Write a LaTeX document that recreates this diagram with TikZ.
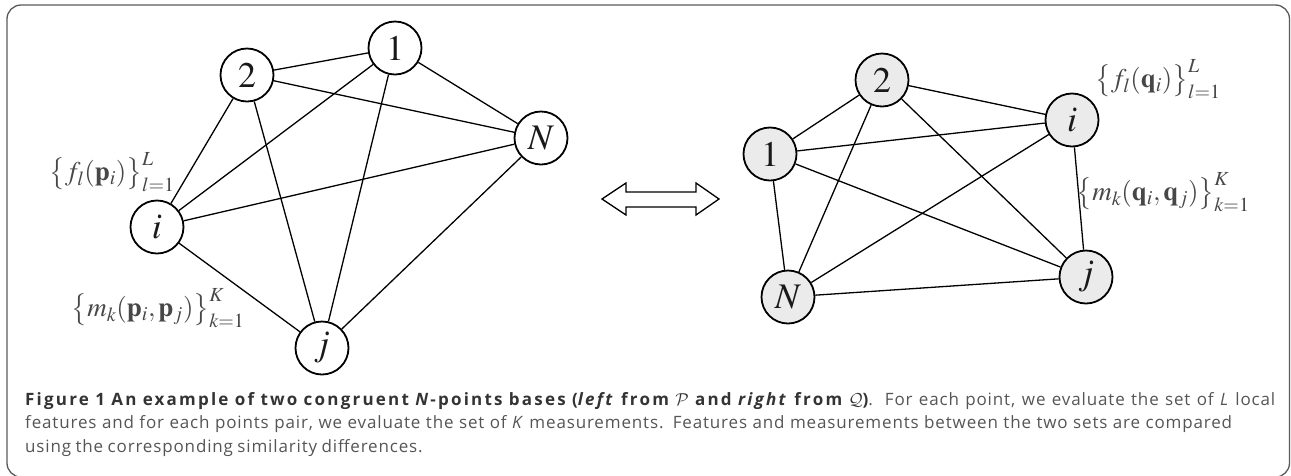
\documentclass[tikz,border=0pt]{standalone}
\usepackage{mathptmx}
\usepackage[no-math]{fontspec}
\newfontfamily\capfont[LetterSpace=5]{Open Sans}
\newfontfamily\capheadfont[LetterSpace=13]{Open Sans}
\DeclareMathAlphabet{\mathcmcal}{OMS}{cmsy}{m}{n}

\definecolor{capgray}{HTML}{555555}
\definecolor{capdark}{HTML}{333333}
\definecolor{framegray}{HTML}{5A5A5A}
\definecolor{nodefill}{HTML}{EBEBEB}
\definecolor{labgray}{HTML}{474747}

% a caption line set to a fixed width, the spare room going to the word spaces
\newcommand\capbox[2]{\hbox to #1{\spaceskip=0.26em plus 1fil\relax #2}}

\begin{document}
\begin{tikzpicture}[x=1pt,y=-1pt,
  pt/.style={circle,draw=black,line width=1.8pt,minimum size=53pt,inner sep=0pt,
    text=black!90,font=\fontsize{36}{36}\selectfont},
  ptq/.style={pt,fill=nodefill},
  edge/.style={line width=1.3pt},
  lab/.style={text=labgray,inner sep=0pt,font=\fontsize{27}{27}\selectfont},
  capline/.style={anchor=base west,inner sep=0pt,text=capgray,
    font=\capfont\fontsize{17}{20}\selectfont}]

\useasboundingbox (0,0) rectangle (1291,475);

% outer frame
\draw[framegray,line width=1.3pt,rounded corners=14pt] (7,5) rectangle (1289.5,477);

% left point set P
\node[pt] (p2) at (247,75)  {$2$};
\node[pt] (p1) at (395,48)  {$1$};
\node[pt] (pN) at (541,138) {$N$};
\node[pt] (pi) at (157,227) {$i$};
\node[pt] (pj) at (322,348) {$j$};

\foreach \a/\b in {p2/p1,p2/pi,p2/pN,p2/pj,p1/pi,p1/pj,p1/pN,pN/pi,pN/pj,pi/pj}
  \draw[edge] (\a) -- (\b);

\node[lab] (pf) at (112,172) {$\bigl\{f_l(\mathbf{p}_i)\bigr\}_{l=1}^{L}$};
\node[lab] (pm) at (158,308) {$\bigl\{m_k(\mathbf{p}_i,\mathbf{p}_j)\bigr\}_{k=1}^{K}$};

% correspondence arrow
\draw[line width=1.3pt,fill=white]
  (602,199) -- (626,183) -- (626,192) -- (696,192) -- (696,183) -- (719,199)
  -- (696,215) -- (696,207) -- (626,207) -- (626,215) -- cycle;

% right point set Q
\node[ptq] (q2) at (882,80)   {$2$};
\node[ptq] (q1) at (770,154)  {$1$};
\node[ptq] (qN) at (788,297)  {$N$};
\node[ptq] (qi) at (1072,120) {$i$};
\node[ptq] (qj) at (1086,277) {$j$};

\foreach \a/\b in {q2/q1,q2/qi,q2/qN,q2/qj,q1/qi,q1/qN,q1/qj,qN/qi,qN/qj,qi/qj}
  \draw[edge] (\a) -- (\b);

\node[lab] (qf) at (1158,79)  {$\bigl\{f_l(\mathbf{q}_i)\bigr\}_{l=1}^{L}$};
\node[lab] (qm) at (1163,192) {$\bigl\{m_k(\mathbf{q}_i,\mathbf{q}_j)\bigr\}_{k=1}^{K}$};

% caption
\node[capline] (cap1) at (25,405) {\capbox{1250pt}{{\capheadfont\color{capdark}\bfseries Figure 1 An example of two congruent \textit{N}-points bases (\textit{left} from $\mathcmcal{P}$ and \textit{right} from $\mathcmcal{Q}$)}. For each point, we evaluate the set of \textit{L} local}};
\node[capline] (cap2) at (25,428.5) {\capbox{1207pt}{features and for each points pair, we evaluate the set of \textit{K} measurements. Features and measurements between the two sets are compared}};
\node[capline] (cap3) at (25,452) {\capbox{383pt}{using the corresponding similarity differences.}};
\end{tikzpicture}
\end{document}
